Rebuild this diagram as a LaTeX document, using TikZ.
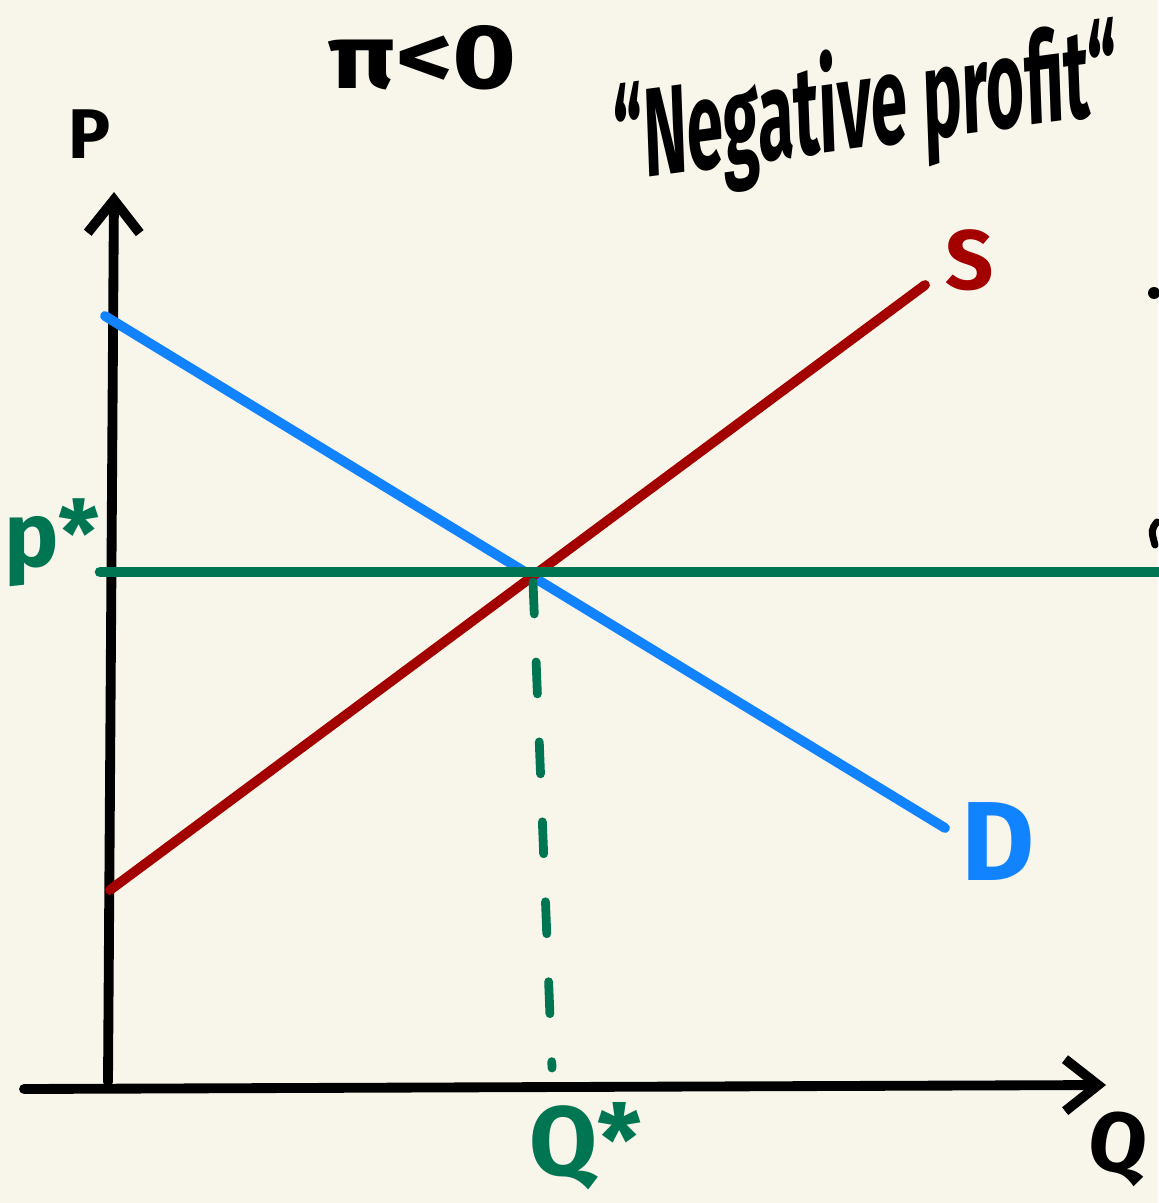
\documentclass[tikz,border=0pt]{standalone}
\usepackage{fontspec}
\setmainfont{Fira Sans}
\usetikzlibrary{arrows.meta,positioning,calc}
\definecolor{paper}{HTML}{F8F6EB}
\definecolor{ink}{HTML}{000000}
\definecolor{supply}{HTML}{A30000}
\definecolor{demand}{HTML}{1283FF}
\definecolor{eqgreen}{HTML}{007552}
\tikzset{
  axis/.style={line width=2.8pt, draw=ink, line cap=round, line join=round,
    -{Straight Barb[length=3.3mm, width=5.2mm, line width=2.8pt]}},
  curve/.style={line width=2.8pt, draw=#1, line cap=round},
  guide/.style={line width=3pt, draw=eqgreen, line cap=round},
  dashguide/.style={line width=2.5pt, draw=eqgreen, line cap=round, dash pattern={on 3.2mm off 4.8mm}},
  hand/.style={font=\fontsize{#1}{#1}\selectfont\bfseries, inner sep=0pt},
}

\begin{document}
\begin{tikzpicture}[x=0.1mm, y=-0.1mm]
    \fill[paper] (0,0) rectangle (1158,1203);
    \useasboundingbox (0,0) rectangle (1158,1203);

    % axes
    \coordinate (origin) at (108,1082);
    \coordinate (ytop) at (114,192);
    \coordinate (xleft) at (24,1089);
    \coordinate (xright) at (1106,1085);
    \draw[axis] (origin) -- (ytop);
    \draw[axis] (xleft) -- (xright);
    \node[hand=20, text=ink] (plab) at (90,134) {P};
    \node[hand=24, text=ink, rotate=-8] (qlab) at (1118,1148) {Q};

    % supply and demand
    \coordinate (d0) at (105,316);
    \coordinate (d1) at (945,828);
    \coordinate (s0) at (110,890);
    \coordinate (s1) at (925,285);
    \draw[curve=demand] (d0) -- (d1);
    \draw[curve=supply] (s0) -- (s1);
    \node[hand=24, text=supply] (slab) at (970,260) {S};
    \node[hand=32, text=demand] (dlab) at (998,842) {D};

    % equilibrium
    \coordinate (peq) at (100,572);
    \coordinate (pend) at (1160,572);
    \coordinate (qtop) at (533,582);
    \coordinate (qbot) at (552,1068);
    \draw[guide] (peq) -- (pend);
    \draw[dashguide] (qtop) -- (qbot);
    \node[hand=26, text=eqgreen] (pstar) at (52,543) {p*};
    \node[hand=28, text=eqgreen] (qstar) at (586,1146) {Q*};

    % title
    \node[hand=26, text=ink, xscale=1.2, transform shape] (pi) at (423,58) {π<0};
    \node[hand=36, text=ink, xscale=0.52, rotate=4, transform shape] (neg) at (866,110) {“Negative profit“};

    % cut-off marks at right edge
    \fill[ink] (1154,293) circle (6);
    \draw[ink, line width=2pt, line cap=round] (1157,522) .. controls (1151,530) .. (1155,545);
\end{tikzpicture}
\end{document}
